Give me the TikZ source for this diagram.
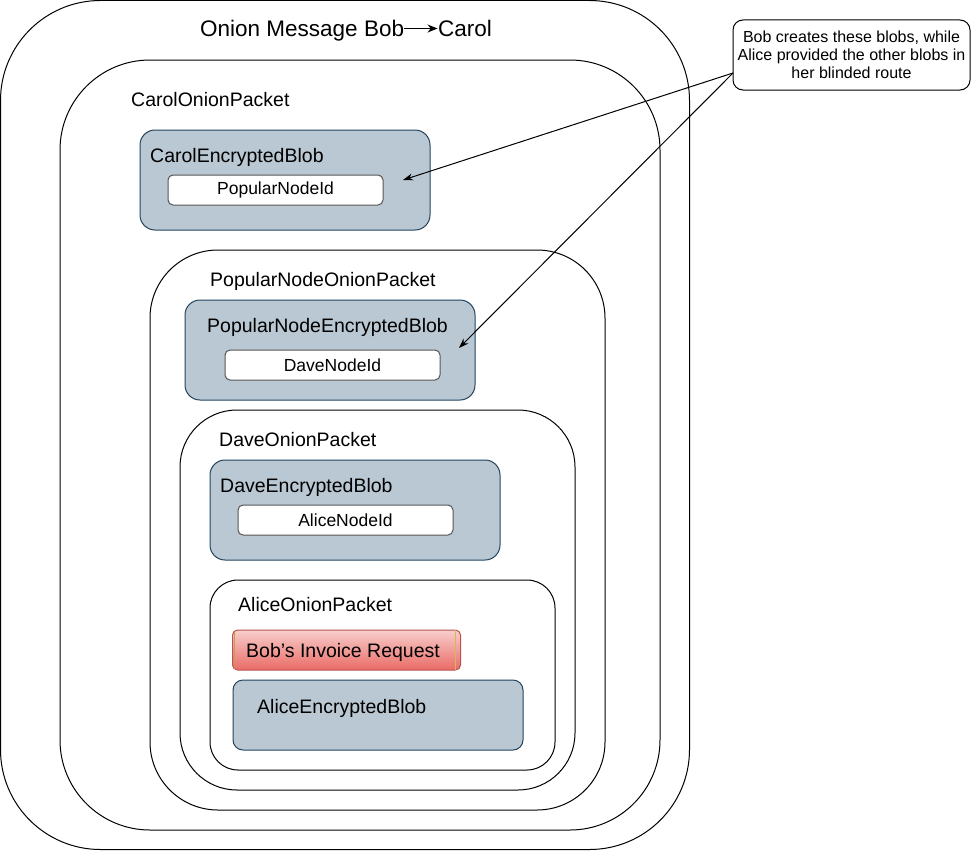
\documentclass[tikz,border=0pt]{standalone}
\usepackage{fontspec}
\setmainfont{Liberation Sans}
\usetikzlibrary{arrows.meta}
\definecolor{blobfill}{HTML}{BAC8D3}
\definecolor{blobdraw}{HTML}{23445D}
\definecolor{iddraw}{HTML}{555555}
\definecolor{redtop}{HTML}{F8CECC}
\definecolor{redbot}{HTML}{EA6B66}
\definecolor{reddraw}{HTML}{B85450}
\definecolor{yelline}{HTML}{D6B656}
\begin{document}
\begin{tikzpicture}[x=1pt,y=-1pt,
  box/.style={line width=1pt, inner sep=0pt, rounded corners=#1},
  container/.style={box=#1, draw=black},
  blob/.style={box=15pt, draw=blobdraw, fill=blobfill, minimum width=290pt, minimum height=100pt},
  idbox/.style={box=5pt, draw=iddraw, fill=white, minimum width=215pt, minimum height=30pt, font=\fontsize{17.5}{21}\selectfont},
  lbl/.style={anchor=base west, inner sep=0pt, font=\fontsize{19.5}{23}\selectfont},
  ttl/.style={inner sep=0pt, anchor=base west, font=\fontsize{22.5}{26}\selectfont},
  pointer/.style={line width=1pt, -{Stealth[length=10pt,width=7pt]}}
]
\useasboundingbox (0,0) rectangle (973,851);
% containers
\node[container=100pt, minimum width=689pt, minimum height=849pt] (outer) at (345,425) {};
\node[container=90pt, minimum width=600pt, minimum height=770pt] (carolpkt) at (360,445) {};
\node[container=68pt, minimum width=455pt, minimum height=560pt] (poppkt) at (377.5,530) {};
\node[container=57pt, minimum width=395pt, minimum height=380pt] (davepkt) at (377.5,600) {};
\node[container=28pt, minimum width=345pt, minimum height=190pt] (alicepkt) at (382.5,675) {};
% blobs
\node[blob] (carolblob) at (285,180) {};
\node[blob] (popblob) at (330,350) {};
\node[blob] (daveblob) at (355,510) {};
\node[blob, minimum height=70pt, rounded corners=10pt] (aliceblob) at (378,715) {};
% id boxes
\node[idbox] (popid) at (275.5,190) {PopularNodeId};
\node[idbox] (daveid) at (332.5,365) {DaveNodeId};
\node[idbox] (aliceid) at (345.5,520) {AliceNodeId};
% invoice request
\node[box=5pt, draw=reddraw, top color=redtop, bottom color=redbot, minimum width=228pt, minimum height=40pt] (bobreq) at (346.5,650) {};
\draw[yelline, line width=0.8pt] ([xshift=-5.5pt,yshift=-0.5pt]bobreq.north east) -- ([xshift=-5.5pt,yshift=0.5pt]bobreq.south east);
\draw[yelline!70!reddraw, line width=0.6pt] ([xshift=2pt,yshift=-2pt]bobreq.north west) -- ([xshift=2pt,yshift=2pt]bobreq.south west);
\node[lbl] (bobreqtxt) at (246,657) {Bob{\char"0027}s Invoice Request};
% title
\node[ttl] (title1) at (200,37) {Onion Message Bob};
\node[ttl] (title2) at (438,37) {Carol};
\coordinate (ta) at (404,28.5);
\coordinate (tb) at (437.5,28.5);
\draw[line width=1pt, -{Stealth[length=10pt,width=8pt]}] (ta) -- (tb);
% labels
\node[lbl] (carolpktlbl) at (131,106) {CarolOnionPacket};
\node[lbl] (carolbloblbl) at (150,162) {CarolEncryptedBlob};
\node[lbl] (poppktlbl) at (210,286) {PopularNodeOnionPacket};
\node[lbl] (popbloblbl) at (207,332) {PopularNodeEncryptedBlob};
\node[lbl] (davepktlbl) at (219,446) {DaveOnionPacket};
\node[lbl] (davebloblbl) at (220,492) {DaveEncryptedBlob};
\node[lbl] (alicepktlbl) at (238,611) {AliceOnionPacket};
\node[lbl] (alicebloblbl) at (257,713) {AliceEncryptedBlob};
% callout
\node[box=10pt, draw=black, fill=white, minimum width=237pt, minimum height=70pt, align=center, font=\fontsize{16}{18}\selectfont] (callout) at (851.5,55) {Bob creates these blobs, while\\Alice provided the other blobs in\\her blinded route};
\coordinate (cs) at (733,73);
\coordinate (t1) at (403,180);
\coordinate (t2) at (459,348);
\draw[pointer] (cs) -- (t1);
\draw[pointer] (cs) -- (t2);
\end{tikzpicture}
\end{document}
